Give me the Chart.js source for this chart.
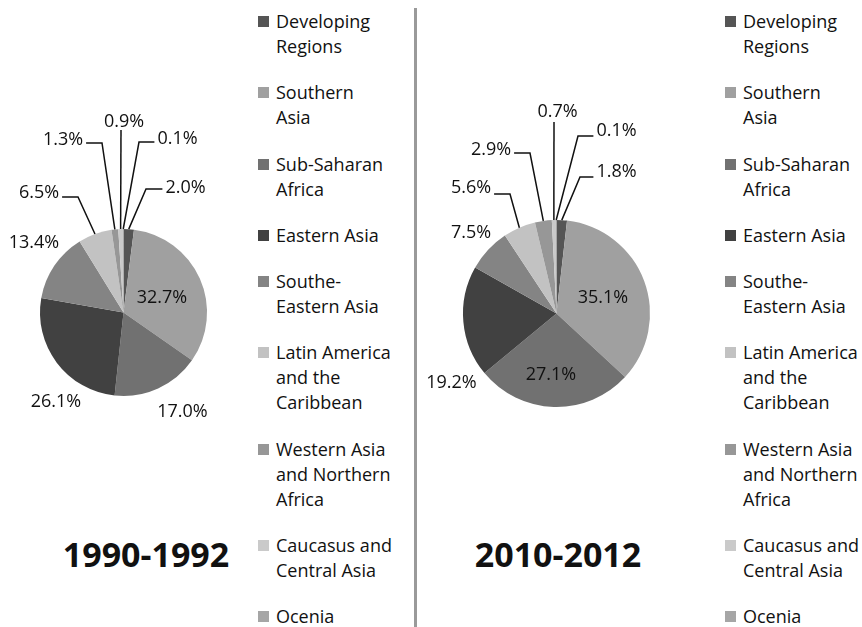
<!DOCTYPE html>
<html>
<head>
<meta charset="utf-8">
<script src="https://cdn.jsdelivr.net/npm/chart.js@4.4.1/dist/chart.umd.min.js"></script>
<style>
  body { margin: 0; width: 862px; height: 627px; background: #fff; position: relative; overflow: hidden; font-family: 'Open Sans', sans-serif; color: #111; }
  canvas { position: absolute; top: 0; }
  .divider { position: absolute; left: 414px; top: 8px; width: 3px; height: 619px; background: #9a9a9a; }
  .legend { position: absolute; top: 9px; height: 620px; display: flex; flex-direction: column; justify-content: space-between; }
  .item { display: flex; align-items: flex-start; }
  .sw { width: 11px; height: 11px; margin-top: 7px; flex: none; }
  .txt { margin-left: 7px; font-size: 18px; line-height: 25px; white-space: pre-line; }
  .title { position: absolute; top: 530px; width: 240px; text-align: center; font-size: 34px; font-weight: 700; line-height: 48px; }
</style>
</head>
<body>
<canvas id="pie1" width="250" height="460" style="left:0"></canvas>
<canvas id="pie2" width="280" height="460" style="left:420px"></canvas>
<div class="divider"></div>
<div class="legend" id="legend1" style="left:258px"></div>
<div class="legend" id="legend2" style="left:725px"></div>
<div class="title" style="left:26px">1990-1992</div>
<div class="title" style="left:438px">2010-2012</div>
<script>
const categories = [
  'Developing\nRegions',
  'Southern\nAsia',
  'Sub-Saharan\nAfrica',
  'Eastern Asia',
  'Southe-\nEastern Asia',
  'Latin America\nand the\nCaribbean',
  'Western Asia\nand Northern\nAfrica',
  'Caucasus and\nCentral Asia',
  'Ocenia',
];
const share1990 = [2.0, 32.7, 17.0, 26.1, 13.4, 6.5, 1.3, 0.9, 0.1];
const share2010 = [1.8, 35.1, 27.1, 19.2, 7.5, 5.6, 2.9, 0.7, 0.1];
const colors = ['#555555', '#a0a0a0', '#717171', '#414141', '#848484', '#c2c2c2', '#979797', '#cacaca', '#a6a6a6'];

// label placement relative to pie centre: [dx, dy] text centre, optional elbow for leader line
const layout1990 = [
  { at: [62, -124.5], elbow: [22.5, -123.5] },
  { at: [38.5, -14.5] },
  { at: [59, 99.5] },
  { at: [-67.5, 89.5] },
  { at: [-89.5, -69.5] },
  { at: [-84.5, -119.5], elbow: [-45.5, -115.5] },
  { at: [-60.5, -172.5], elbow: [-21.5, -169.5] },
  { at: [0.5, -190.5], elbow: [-2.5, -182.5], vertical: true },
  { at: [54, -173.5], elbow: [15.5, -170.5] },
];
const layout2010 = [
  { at: [60, -141.5], elbow: [23.5, -136.5] },
  { at: [46.5, -15.5] },
  { at: [-5.5, 61.5] },
  { at: [-105, 69.5] },
  { at: [-85.5, -80.5] },
  { at: [-85.5, -125.5], elbow: [-46.5, -119.5] },
  { at: [-65.5, -163.5], elbow: [-26.5, -160.5] },
  { at: [1, -201.5], elbow: [-2.5, -191.5], vertical: true },
  { at: [60, -182.5], elbow: [21.5, -177.5] },
];

const pieLabels = {
  id: 'pieLabels',
  afterDatasetsDraw(chart, args, opts) {
    const ctx = chart.ctx;
    const meta = chart.getDatasetMeta(0);
    const values = chart.data.datasets[0].data;
    ctx.save();
    ctx.font = '18px "Open Sans"';
    ctx.fillStyle = '#111';
    ctx.strokeStyle = '#111';
    ctx.lineWidth = 1.5;
    ctx.textAlign = 'center';
    ctx.textBaseline = 'middle';
    meta.data.forEach((arc, i) => {
      const p = arc.getProps(['x', 'y', 'startAngle', 'endAngle', 'outerRadius'], true);
      const l = opts.layout[i];
      const tx = p.x + l.at[0];
      const ty = p.y + l.at[1];
      const text = values[i].toFixed(1) + '%';
      if (l.elbow) {
        const mid = (p.startAngle + p.endAngle) / 2;
        const sx = p.x + Math.cos(mid) * p.outerRadius;
        const sy = p.y + Math.sin(mid) * p.outerRadius;
        const ex = p.x + l.elbow[0];
        const ey = p.y + l.elbow[1];
        ctx.beginPath();
        ctx.moveTo(sx, sy);
        ctx.lineTo(ex, ey);
        if (!l.vertical) {
          const w = ctx.measureText(text).width / 2 + 3;
          ctx.lineTo(tx > ex ? tx - w : tx + w, ey);
        }
        ctx.stroke();
      }
      ctx.fillText(text, tx, ty);
    });
    ctx.restore();
  },
};

function makePie(id, values, layout, padding) {
  const ctx = document.getElementById(id).getContext('2d');
  return new Chart(ctx, {
    type: 'pie',
    data: {
      labels: categories,
      datasets: [
        {
          data: values,
          backgroundColor: colors,
          borderWidth: 0,
        },
      ],
    },
    options: {
      responsive: false,
      animation: false,
      layout: { padding },
      plugins: {
        legend: { display: false },
        tooltip: { enabled: false },
        pieLabels: { layout },
      },
    },
    plugins: [pieLabels],
  });
}

makePie('pie1', share1990, layout1990, { left: 40, right: 43, top: 229, bottom: 64 });
makePie('pie2', share2010, layout2010, { left: 43, right: 50, top: 220, bottom: 53 });

function buildLegend(id) {
  const box = document.getElementById(id);
  categories.forEach((name, i) => {
    const item = document.createElement('div');
    item.className = 'item';
    const sw = document.createElement('div');
    sw.className = 'sw';
    sw.style.background = colors[i];
    const txt = document.createElement('div');
    txt.className = 'txt';
    txt.textContent = name;
    item.appendChild(sw);
    item.appendChild(txt);
    box.appendChild(item);
  });
}
buildLegend('legend1');
buildLegend('legend2');
</script>
</body>
</html>
